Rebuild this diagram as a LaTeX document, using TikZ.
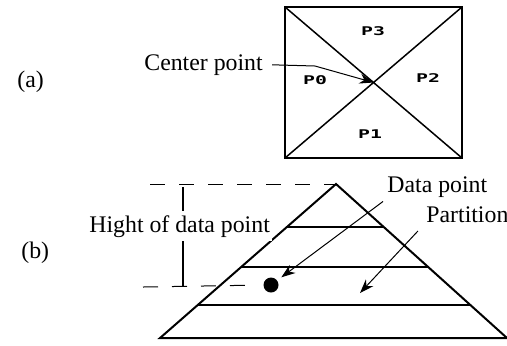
\documentclass[tikz,border=0pt]{standalone}
\usepackage{fontspec}
\setmainfont{Liberation Serif}
\newfontfamily\pfont{DejaVu Sans Mono}
\usetikzlibrary{arrows.meta,calc}
\tikzset{
  lbl/.style  ={font=\fontsize{11.9}{13}\selectfont,inner sep=2pt},
  part/.style ={font=\pfont\bfseries\fontsize{6}{7}\selectfont,inner sep=0pt},
  ar/.style   ={-{Stealth[length=7pt,width=5pt]},line width=0.5pt},
  guide/.style={dash pattern=on 7.5pt off 7pt,line width=0.5pt},
  wall/.style ={line width=1pt},
}
\newcommand{\pl}[1]{\scalebox{1.65}[1]{#1}}

\begin{document}
\begin{tikzpicture}[x=0.5pt,y=-0.5pt]
\useasboundingbox (0,0) rectangle (507,345);
% (a) square cut into four partitions
\coordinate (nw) at (285,7);  \coordinate (ne) at (462,7);
\coordinate (sw) at (285,158); \coordinate (se) at (462,158);
\coordinate (ctr) at (373.5,82.5);
\draw[line width=1.2pt] (nw) rectangle (se);
\draw[line width=0.75pt] (nw) -- (se) (ne) -- (sw);
\node[part] (p3) at (373,31)  {\pl{P3}};
\node[part] (p0) at (315,80)  {\pl{P0}};
\node[part] (p2) at (428,78)  {\pl{P2}};
\node[part] (p1) at (370,134) {\pl{P1}};
\node[lbl,anchor=base west] (la) at (13,87) {(a)};
\node[lbl,anchor=base west] (cp) at (140,70) {Center point};
\coordinate (bend) at (315,66);
\draw[ar,shorten <=2.5pt] (cp.east) -- (bend) -- (ctr);
% (b) pyramid of partitions
\node[lbl,anchor=base west] (lb) at (17,258) {(b)};
\coordinate (apex) at (336,184); \coordinate (bl) at (160,338); \coordinate (br) at (507,338);
\draw[wall] (bl) -- (apex) -- (br) -- cycle;
\foreach \t in {0.279,0.539,0.786}
  \draw[wall] ($(apex)!\t!(bl)$) -- ($(apex)!\t!(br)$);
\node[circle,fill,inner sep=0pt,minimum size=7.5pt] (dot) at (271,285) {};
\coordinate (gtop) at (150,184); \coordinate (gbot) at (143,287);
\draw[guide] (gtop) -- (apex);
\draw[guide,shorten >=4.5pt] (gbot) -- (dot.west);
\coordinate (dtop) at (183,187); \coordinate (dbot) at (183,287);
\draw[line width=0.6pt] (dtop) -- (dbot);
\node[lbl,fill=white,inner xsep=1pt,anchor=base west] (hgt) at (87,232) {Hight of data point};
\node[lbl,anchor=base west] (dp) at (383,192) {Data point};
\draw[ar,shorten >=2.5pt] (dp.south west) -- (dot);
\node[lbl,anchor=base west] (pt) at (422,222) {Partition};
\coordinate (ptip) at (360,293);
\draw[ar,shorten <=3pt] (pt.south west) -- (ptip);
\end{tikzpicture}
\end{document}
